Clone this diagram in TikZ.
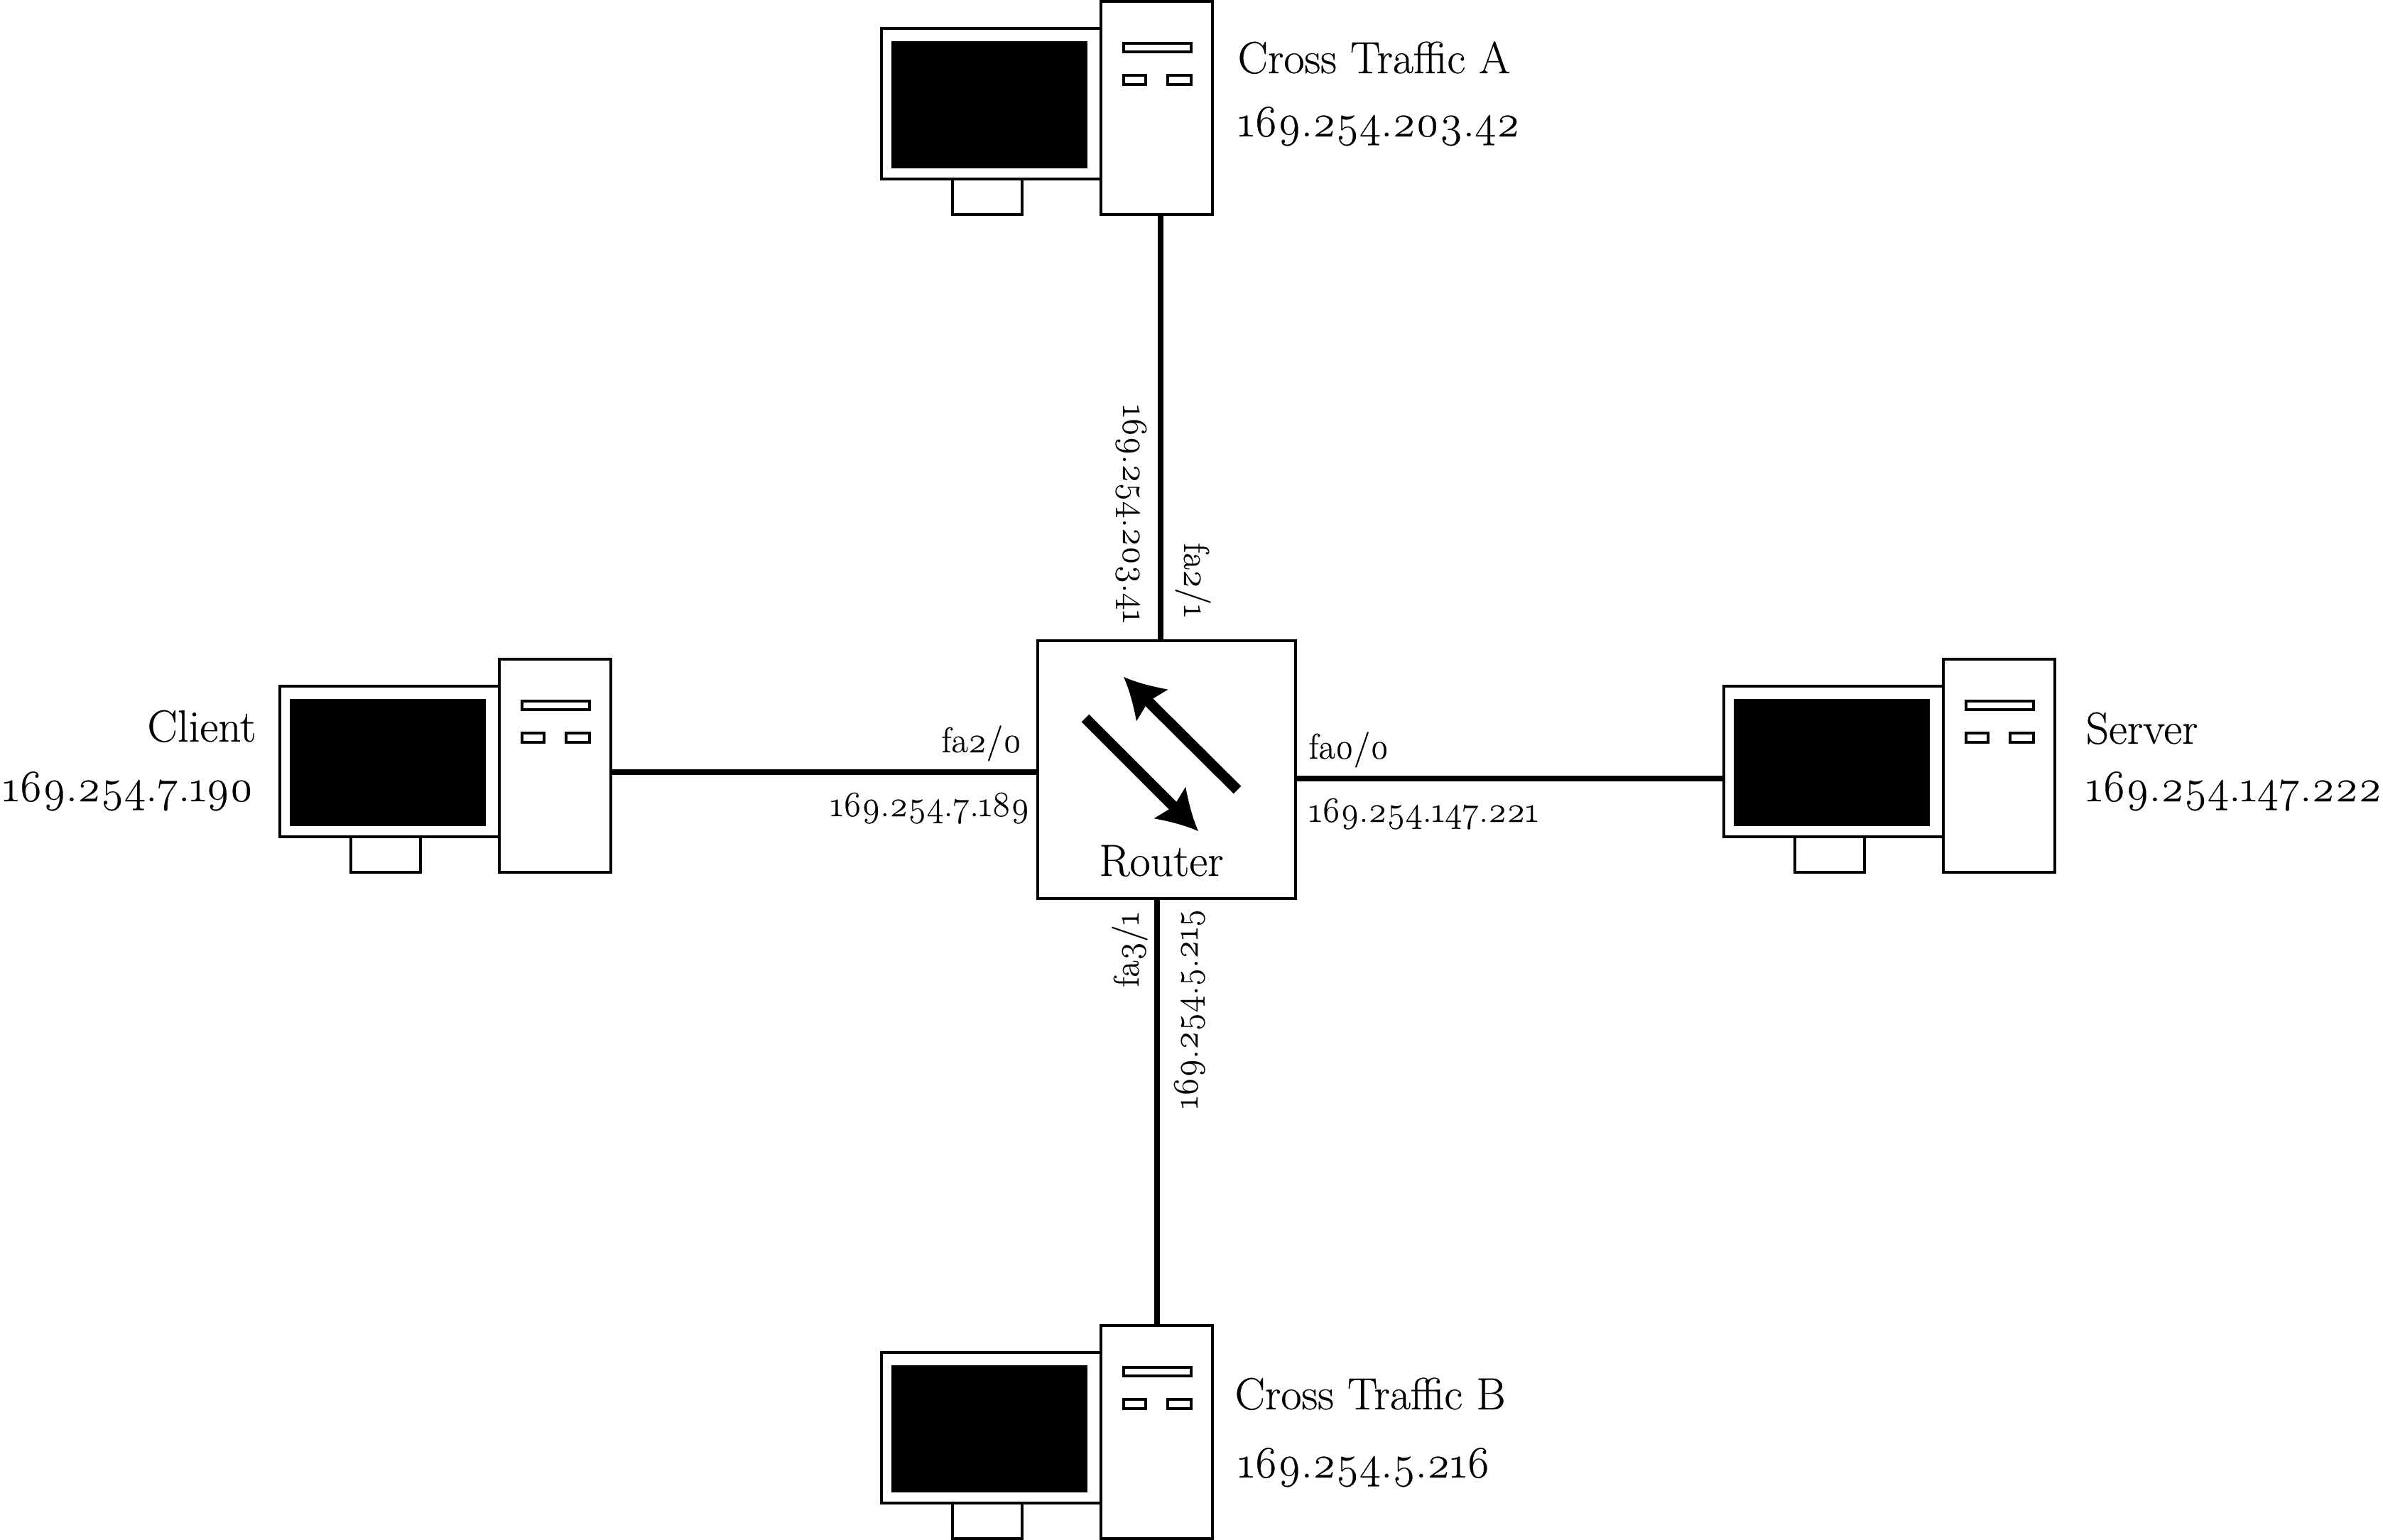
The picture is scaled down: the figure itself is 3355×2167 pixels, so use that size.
\documentclass[tikz,border=0pt]{standalone}
\usepackage{fontspec}
\setmainfont{Latin Modern Roman}[Numbers=OldStyle, FakeBold=0.4]

\pgfarrowsdeclare{routerhead}{routerhead}{
	\pgfarrowsleftextend{-2.3pt}
	\pgfarrowsrightextend{14.7pt}
}{
	\pgfpathmoveto{\pgfpoint{14.7pt}{0pt}}
	\pgfpathquadraticcurveto{\pgfpoint{7.2pt}{2.9pt}}{\pgfpoint{-2.3pt}{9.45pt}}
	\pgfpathlineto{\pgfpoint{0pt}{0pt}}
	\pgfpathlineto{\pgfpoint{-2.3pt}{-9.45pt}}
	\pgfpathquadraticcurveto{\pgfpoint{7.2pt}{-2.9pt}}{\pgfpoint{14.7pt}{0pt}}
	\pgfusepathqfill
}

\tikzset{
	part/.style={draw=black, fill=white, line width=1.4pt, rectangle, inner sep=0pt, outer sep=0pt, anchor=north west},
	link/.style={draw=black, line width=2.3pt},
	flow/.style={draw=black, line width=4.5pt, -routerhead},
	biglabel/.style={inner sep=0pt, anchor=base west, font=\fontsize{19}{23}\selectfont},
	smalllabel/.style={inner sep=0pt, anchor=base west, font=\fontsize{15.1}{18}\selectfont},
	computer/.pic={
		\node[part, minimum width=92.7pt, minimum height=63.6pt] (-monitor) at (-309,38) {};
		\node[part, fill=black, draw=none, minimum width=82.8pt, minimum height=53.7pt] (-screen) at (-295,56) {};
		\node[part, minimum width=29.4pt, minimum height=15pt] (-stand) at (-209,250) {};
		\node[part, minimum width=47.1pt, minimum height=90pt] (-tower) at (0,0) {};
		\node[part, minimum width=28.5pt, minimum height=3.6pt] (-drive) at (32,59) {};
		\node[part, minimum width=9.3pt, minimum height=3.9pt] (-btna) at (32,104) {};
		\node[part, minimum width=9.9pt, minimum height=3.9pt] (-btnb) at (94,104) {};
	}
}

\begin{document}
\begin{tikzpicture}[x=0.3pt, y=-0.3pt]
	\useasboundingbox (0,0) rectangle (3355,2167);

	% router and where the links meet it
	\node[part, minimum width=108.9pt, minimum height=108.9pt] (router) at (1461,902) {};
	\coordinate (porttop) at (1634,902);
	\coordinate (portbottom) at (1629,1265);
	\coordinate (portleft) at (1461,1087);
	\coordinate (portright) at (1824,1096);
	\coordinate (flowastart) at (1528,1011);
	\coordinate (flowaend) at (1687,1170);
	\coordinate (flowbstart) at (1742,1112);
	\coordinate (flowbend) at (1582,953);

	\draw[flow] (flowastart) -- (flowaend);
	\draw[flow] (flowbstart) -- (flowbend);
	\node[biglabel, anchor=base] (routername) at (1635,1233) {Router};

	% the four computers
	\pic (crossa) at (1550,2) {computer};
	\pic (client) at (703,928) {computer};
	\pic (server) at (2736,928) {computer};
	\pic (crossb) at (1550,1866) {computer};

	% links
	\draw[link] (porttop) -- (porttop |- crossa-tower.south);
	\draw[link] (portbottom) -- (portbottom |- crossb-tower.north);
	\draw[link] (portleft) -- (portleft -| client-tower.east);
	\draw[link] (portright) -- (portright -| server-monitor.west);

	% host labels
	\node[biglabel] (crossaname) at (1742,103) {Cross Traffic A};
	\node[biglabel] (crossaaddr) at (1742,192) {169.254.203.42};
	\node[biglabel, anchor=base east] (clientname) at (361,1044) {Client};
	\node[biglabel, anchor=base east] (clientaddr) at (357,1128) {169.254.7.190};
	\node[biglabel] (servername) at (2936,1047) {Server};
	\node[biglabel] (serveraddr) at (2936,1128) {169.254.147.222};
	\node[biglabel] (crossbname) at (1738,1984) {Cross Traffic B};
	\node[biglabel] (crossbaddr) at (1742,2080) {169.254.5.216};

	% interface labels
	\node[smalllabel] (clientport) at (1325,1059) {fa2/0};
	\node[smalllabel, anchor=base east] (clientgate) at (1450,1149) {169.254.7.189};
	\node[smalllabel] (serverport) at (1842,1068) {fa0/0};
	\node[smalllabel] (servergate) at (1842,1157) {169.254.147.221};
	\node[smalllabel, rotate=-90] (crossagate) at (1581,569) {169.254.203.41};
	\node[smalllabel, rotate=-90] (crossaport) at (1667,764) {fa2/1};
	\node[smalllabel, rotate=90] (crossbport) at (1603,1390) {fa3/1};
	\node[smalllabel, rotate=90] (crossbgate) at (1686,1562) {169.254.5.215};
\end{tikzpicture}
\end{document}
